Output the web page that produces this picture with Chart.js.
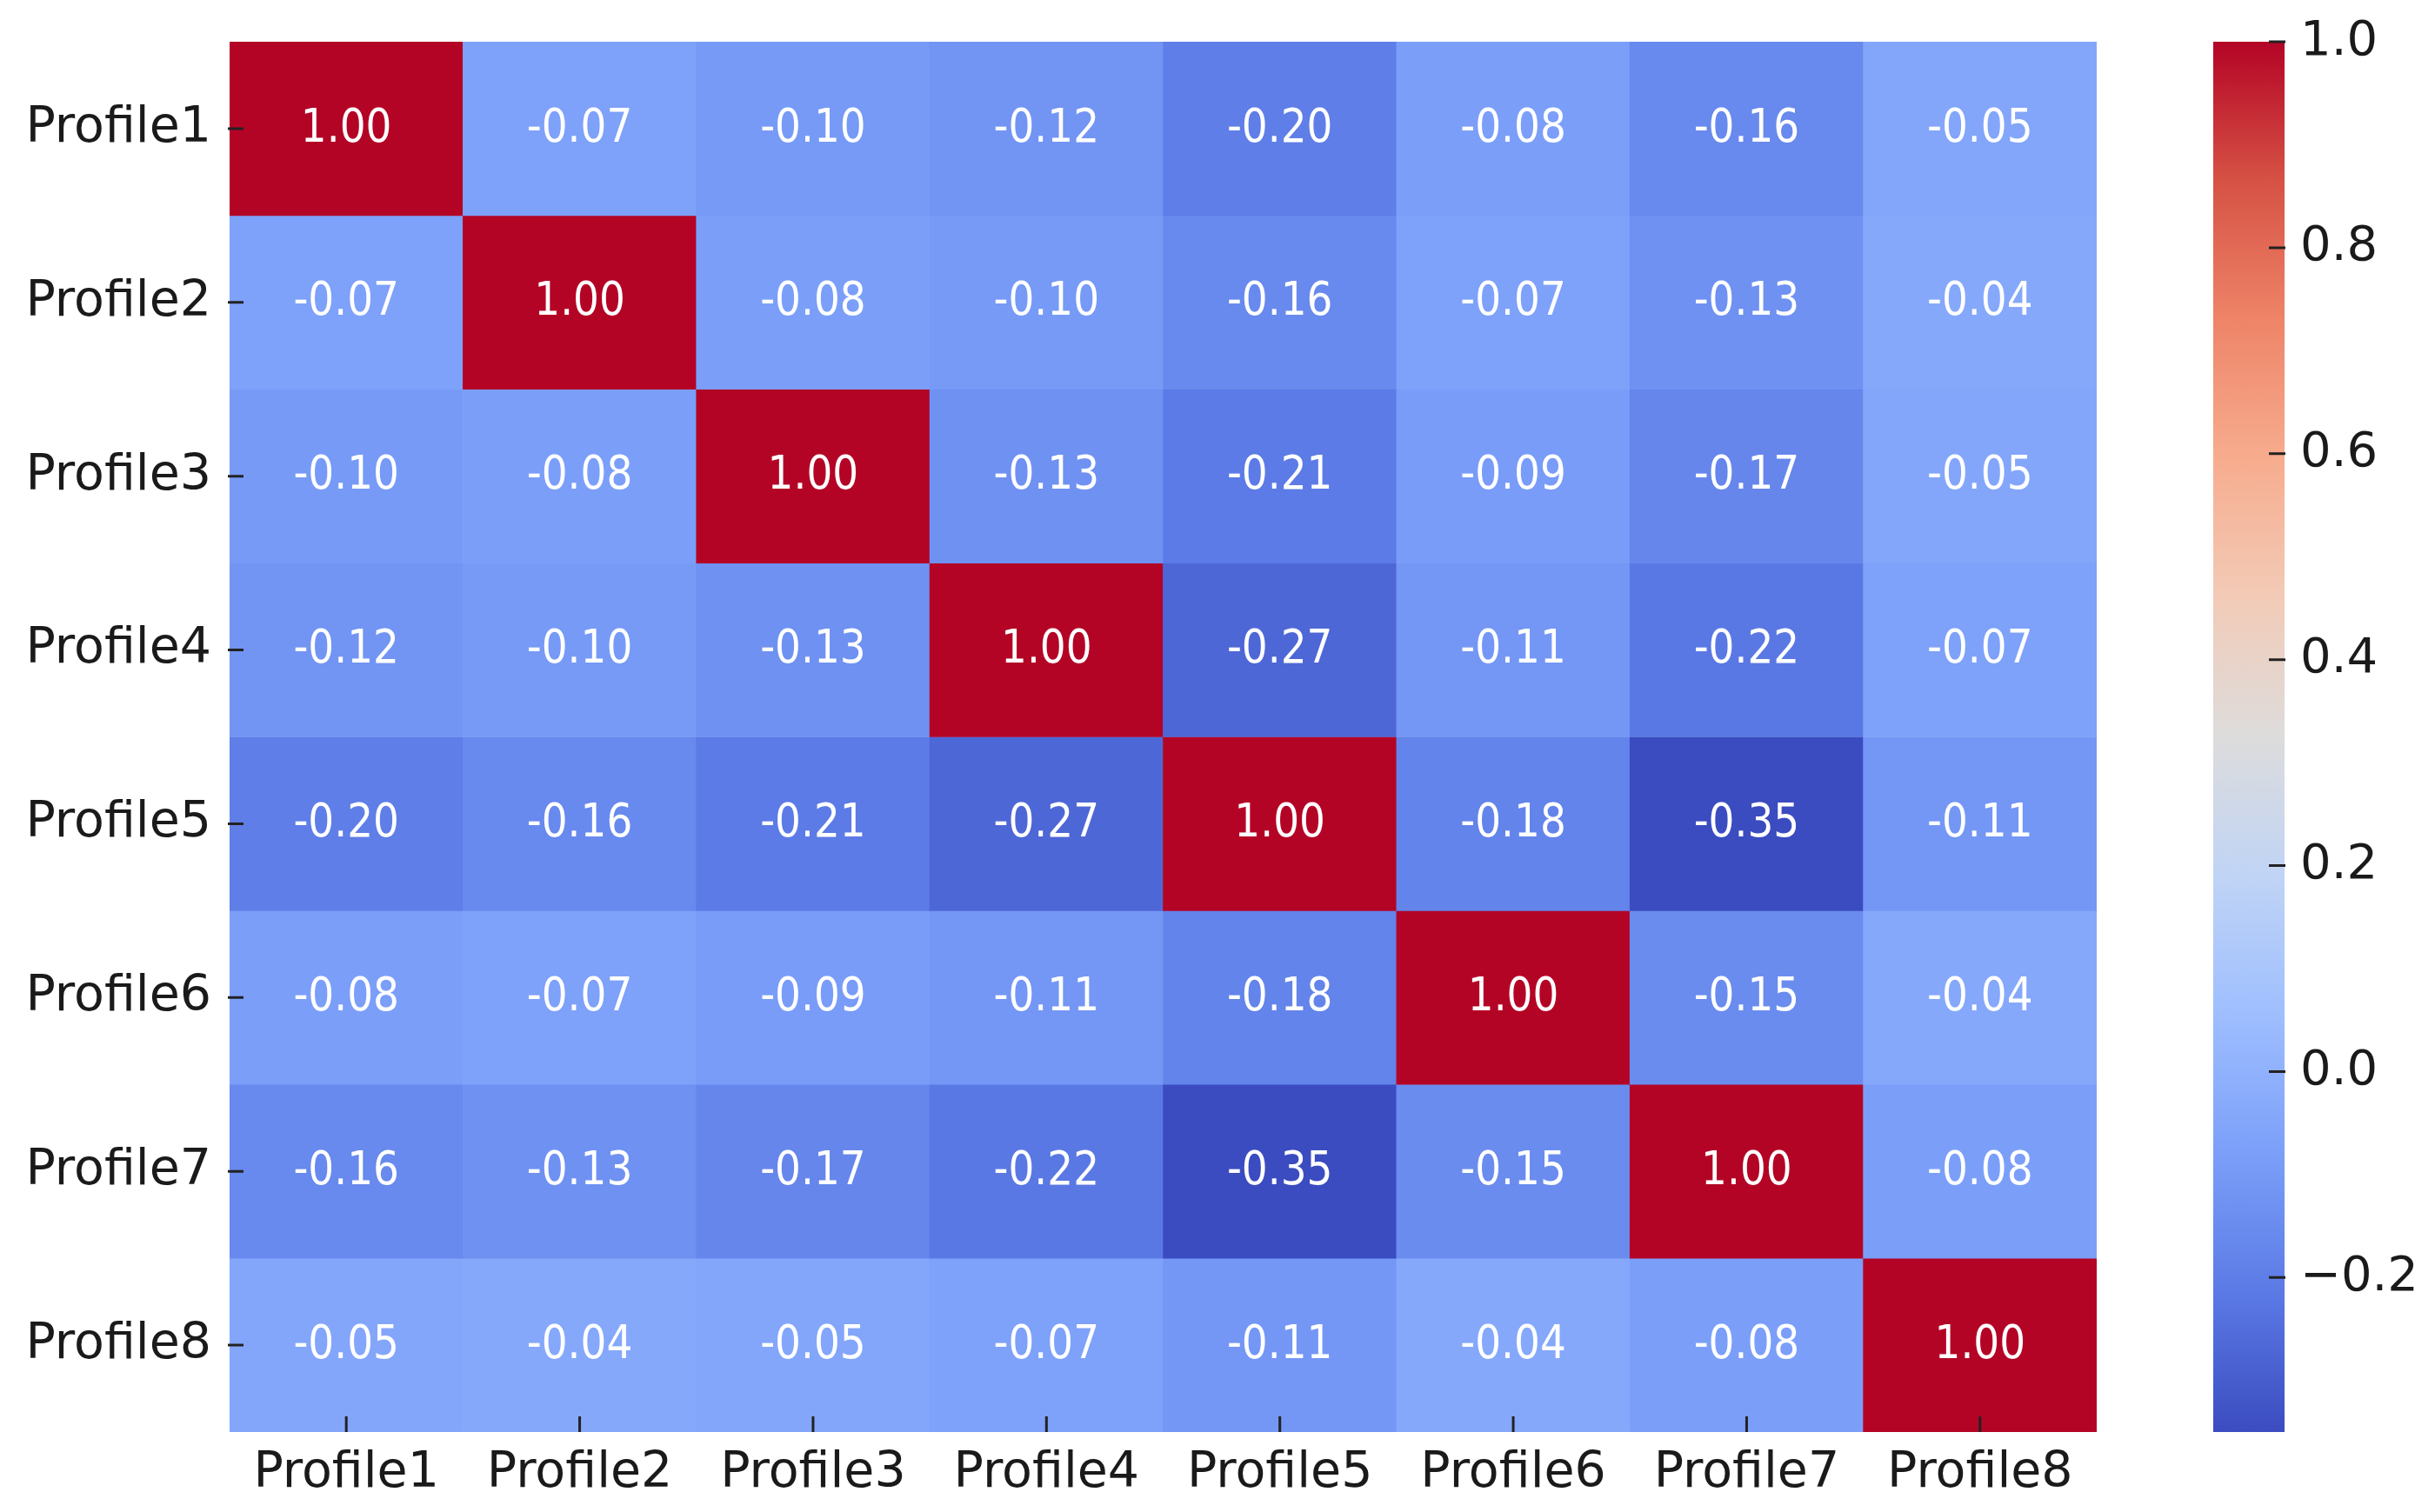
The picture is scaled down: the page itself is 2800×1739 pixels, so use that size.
<!DOCTYPE html>
<html>
<head>
<meta charset="utf-8">
<script src="https://cdn.jsdelivr.net/npm/chart.js@4.4.1/dist/chart.umd.min.js"></script>
<style>
  html, body { margin: 0; padding: 0; background: #ffffff; }
  #wrap { position: relative; width: 2800px; height: 1739px; overflow: hidden; }
  #heat { position: absolute; left: 0; top: 0; }
  #cbar { position: absolute; left: 2500px; top: 0; }
</style>
</head>
<body>
<div id="wrap">
  <canvas id="heat" width="2440" height="1739"></canvas>
  <canvas id="cbar" width="300" height="1739"></canvas>
</div>
<script>
// ---------- data ----------
const rowLabels = ['Profile1','Profile2','Profile3','Profile4','Profile5','Profile6','Profile7','Profile8'];
const colLabels = ['Profile1','Profile2','Profile3','Profile4','Profile5','Profile6','Profile7','Profile8'];

const profile1 = [ 1.00, -0.07, -0.10, -0.12, -0.20, -0.08, -0.16, -0.05];
const profile2 = [-0.07,  1.00, -0.08, -0.10, -0.16, -0.07, -0.13, -0.04];
const profile3 = [-0.10, -0.08,  1.00, -0.13, -0.21, -0.09, -0.17, -0.05];
const profile4 = [-0.12, -0.10, -0.13,  1.00, -0.27, -0.11, -0.22, -0.07];
const profile5 = [-0.20, -0.16, -0.21, -0.27,  1.00, -0.18, -0.35, -0.11];
const profile6 = [-0.08, -0.07, -0.09, -0.11, -0.18,  1.00, -0.15, -0.04];
const profile7 = [-0.16, -0.13, -0.17, -0.22, -0.35, -0.15,  1.00, -0.08];
const profile8 = [-0.05, -0.04, -0.05, -0.07, -0.11, -0.04, -0.08,  1.00];

const rows = [profile1, profile2, profile3, profile4, profile5, profile6, profile7, profile8];

const colorbarTicks = [-0.2, 0.0, 0.2, 0.4, 0.6, 0.8, 1.0];
const vmin = -0.35;
const vmax = 1.0;

// ---------- colormap (coolwarm) ----------
const cwStops = ['#3b4cc0','#5b7ae5','#7b9ff9','#9ebeff','#c0d4f5','#dddcdc','#f2cbb7','#f7ac8e','#ee8468','#d65244','#b40426'];
function hexToRgb(h) { return [parseInt(h.slice(1,3),16), parseInt(h.slice(3,5),16), parseInt(h.slice(5,7),16)]; }
const cwRgb = cwStops.map(hexToRgb);
function coolwarm(v) {
  let t = (v - vmin) / (vmax - vmin);
  t = Math.max(0, Math.min(1, t));
  const p = t * (cwRgb.length - 1);
  const i = Math.min(cwRgb.length - 2, Math.floor(p));
  const f = p - i;
  const a = cwRgb[i], b = cwRgb[i + 1];
  const c = a.map((x, k) => Math.round(x + (b[k] - x) * f));
  return `rgb(${c[0]},${c[1]},${c[2]})`;
}

Chart.defaults.font.family = "'DejaVu Sans', sans-serif";
Chart.defaults.color = '#1a1a1a';

const TICK_COLOR = '#222222';

// ---------- heatmap ----------
const annotatePlugin = {
  id: 'annotate',
  afterDatasetsDraw(chart) {
    const ctx = chart.ctx;
    ctx.save();
    ctx.fillStyle = '#ffffff';
    ctx.font = "47px 'DejaVu Sans'";
    ctx.textAlign = 'center';
    ctx.textBaseline = 'middle';
    chart.data.datasets.forEach((ds, i) => {
      const meta = chart.getDatasetMeta(i);
      meta.data.forEach((el, j) => {
        const v = rows[i][j];
        ctx.save();
        ctx.translate(el.x, (el.y + el.base) / 2 + 1);
        ctx.scale(1, 1.12);
        ctx.fillText(v.toFixed(2), 0, 0);
        ctx.restore();
      });
    });
    // tick marks drawn at the heatmap edges
    const xs = chart.scales.x, ys = chart.scales.y, area = chart.chartArea;
    ctx.strokeStyle = TICK_COLOR;
    ctx.lineWidth = 3;
    ctx.beginPath();
    colLabels.forEach((_, i) => {
      const px = xs.getPixelForTick(i);
      ctx.moveTo(px, area.bottom);
      ctx.lineTo(px, area.bottom - 18);
    });
    ys.ticks.forEach((t) => {
      const py = ys.getPixelForValue(t.value);
      ctx.moveTo(area.left - 2, py);
      ctx.lineTo(area.left + 16, py);
    });
    ctx.stroke();
    ctx.restore();
  }
};

const heatDatasets = rows.map((vals, r) => ({
  label: rowLabels[r],
  data: vals.map(() => [r, r + 1]),
  backgroundColor: vals.map(coolwarm),
  borderWidth: 0,
  grouped: false,
  barPercentage: 1.0,
  categoryPercentage: 1.0
}));

new Chart(document.getElementById('heat'), {
  type: 'bar',
  data: { labels: colLabels, datasets: heatDatasets },
  options: {
    responsive: false,
    animation: false,
    devicePixelRatio: 1,
    layout: { padding: { top: 48, right: 29, left: 0, bottom: 0 } },
    plugins: { legend: { display: false }, tooltip: { enabled: false } },
    scales: {
      x: {
        type: 'category',
        offset: true,
        grid: { display: false },
        border: { display: false },
        ticks: { font: { size: 57 }, color: '#1a1a1a', padding: 6, maxRotation: 0, autoSkip: false },
        afterFit(scale) { scale.height = 92; scale.paddingLeft = 0; scale.paddingRight = 0; }
      },
      y: {
        type: 'linear',
        min: 0,
        max: 8,
        reverse: true,
        grid: { display: false },
        border: { display: false },
        afterBuildTicks(scale) { scale.ticks = rowLabels.map((_, i) => ({ value: i + 0.5 })); },
        ticks: {
          font: { size: 57 },
          color: '#1a1a1a',
          padding: 13,
          autoSkip: false,
          callback: (v) => rowLabels[Math.floor(v)]
        },
        afterFit(scale) { scale.width = 264; scale.paddingTop = 0; scale.paddingBottom = 0; }
      }
    }
  },
  plugins: [annotatePlugin]
});

// ---------- colorbar ----------
const cbarTickPlugin = {
  id: 'cbarTicks',
  afterDatasetsDraw(chart) {
    const ctx = chart.ctx, ys = chart.scales.y, area = chart.chartArea;
    ctx.save();
    ctx.strokeStyle = TICK_COLOR;
    ctx.lineWidth = 3;
    ctx.beginPath();
    ys.ticks.forEach((t) => {
      const py = ys.getPixelForValue(t.value);
      ctx.moveTo(area.right + 1, py);
      ctx.lineTo(area.right - 18, py);
    });
    ctx.stroke();
    ctx.restore();
  }
};

new Chart(document.getElementById('cbar'), {
  type: 'bar',
  data: {
    labels: ['cbar'],
    datasets: [{
      data: [[vmin, vmax]],
      borderWidth: 0,
      barPercentage: 1.0,
      categoryPercentage: 1.0,
      backgroundColor(ctx) {
        const chart = ctx.chart;
        const a = chart.chartArea;
        if (!a) return cwStops[0];
        const g = chart.ctx.createLinearGradient(0, a.bottom, 0, a.top);
        cwStops.forEach((c, i) => g.addColorStop(i / (cwStops.length - 1), c));
        return g;
      }
    }]
  },
  options: {
    responsive: false,
    animation: false,
    devicePixelRatio: 1,
    layout: { padding: { top: 48, bottom: 92, left: 45, right: 0 } },
    plugins: { legend: { display: false }, tooltip: { enabled: false } },
    scales: {
      x: { display: false, offset: true },
      y: {
        type: 'linear',
        position: 'right',
        min: vmin,
        max: vmax,
        grid: { display: false },
        border: { display: false },
        afterBuildTicks(scale) { scale.ticks = colorbarTicks.map((v) => ({ value: v })); },
        ticks: {
          font: { size: 56 },
          color: '#1a1a1a',
          padding: 10,
          callback: (v) => (v < 0 ? '\u2212' + Math.abs(v).toFixed(1) : v.toFixed(1))
        },
        afterFit(scale) { scale.width = 173; scale.paddingTop = 0; scale.paddingBottom = 0; }
      }
    }
  },
  plugins: [cbarTickPlugin]
});
</script>
</body>
</html>
